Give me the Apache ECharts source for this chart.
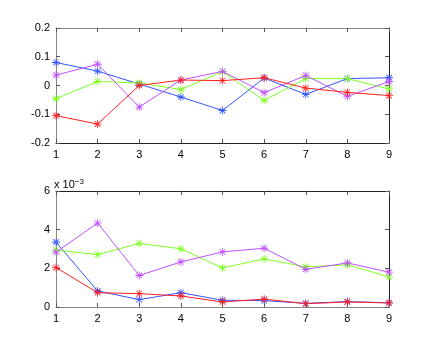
<!DOCTYPE html>
<html><head><meta charset="utf-8">
<script src="https://cdn.jsdelivr.net/npm/echarts@6/dist/echarts.min.js"></script>
<style>html,body{margin:0;padding:0;background:#fff}#c{width:429px;height:346px}</style>
</head><body><div id="c"></div>
<script>
const categories = [1,2,3,4,5,6,7,8,9];
const topTicks = [-0.2,-0.1,0,0.1,0.2];
const bottomTicks = [0,2,4,6];
// top subplot
const topBlue   = [0.080,0.050,0.005,-0.040,-0.087,0.026,-0.031,0.024,0.027];
const topGreen  = [-0.046,0.014,0.009,-0.014,0.048,-0.052,0.024,0.024,-0.012];
const topPurple = [0.036,0.074,-0.075,0.019,0.049,-0.025,0.035,-0.038,0.014];
const topRed    = [-0.105,-0.134,0.000,0.019,0.017,0.027,-0.009,-0.024,-0.035];
// bottom subplot (x 10^-3)
const botBlue   = [3.35,0.83,0.38,0.74,0.35,0.33,0.19,0.28,0.22];
const botGreen  = [2.94,2.71,3.29,3.01,2.02,2.49,2.08,2.18,1.56];
const botPurple = [2.84,4.34,1.63,2.33,2.85,3.04,1.95,2.28,1.80];
const botRed    = [2.04,0.74,0.69,0.57,0.26,0.41,0.17,0.26,0.21];

const colors = {blue:'#3355ff', green:'#7fff20', purple:'#c050ff', red:'#ff2020'};
const star = 'path://M-0.5,-5L0.5,-5L0.5,5L-0.5,5Z M-5,-0.5L5,-0.5L5,0.5L-5,0.5Z M-3.9,-3.2L-3.2,-3.9L3.9,3.2L3.2,3.9Z M3.2,-3.9L3.9,-3.2L-3.2,3.9L-3.9,3.2Z';
const font = {fontFamily:'Liberation Sans, Arial, sans-serif', fontSize:11, color:'#000'};

function pts(arr){ return arr.map((v,i)=>[categories[i], v]); }
function ser(arr, col, xi, yi){
  return {type:'line', data: pts(arr), xAxisIndex: xi, yAxisIndex: yi,
    symbol: star, symbolSize: 8, showSymbol:true,
    lineStyle:{color:col,width:1}, itemStyle:{color:col}, animation:false, z:3};
}
function xAx(grid, pos, showLabel, lineCol){
  return {type:'value', gridIndex:grid, position:pos, min:1, max:9, interval:1,
    axisLine:{show:true, onZero:false, lineStyle:{color:lineCol,width:1}},
    axisTick:{show:true, inside:true, length:4, lineStyle:{color:'#555'}},
    axisLabel:Object.assign({show:showLabel, margin:6}, font),
    splitLine:{show:false}};
}
function yAx(grid, pos, min, max, interval, showLabel, lineCol, fmt){
  return {type:'value', gridIndex:grid, position:pos, min:min, max:max, interval:interval,
    axisLine:{show:true, onZero:false, lineStyle:{color:lineCol,width:1}},
    axisTick:{show:true, inside:true, length:4, lineStyle:{color:'#555'}},
    axisLabel:Object.assign({show:showLabel, margin:6, formatter:fmt}, font),
    splitLine:{show:false}};
}
const fmtTop = v => { const r = Math.round(v*10)/10; return r===0 ? '0' : String(r); };
const fmtBot = v => String(Math.round(v));

const chart = echarts.init(document.getElementById('c'));
chart.setOption({
  backgroundColor:'#fff',
  animation:false,
  grid:[{left:56, top:28, width:333, height:115},{left:56, top:191, width:333, height:116}],
  xAxis:[xAx(0,'bottom',true,'#222'), xAx(0,'top',false,'#888'),
         xAx(1,'bottom',true,'#888'), xAx(1,'top',false,'#222')],
  yAxis:[yAx(0,'left',topTicks[0],topTicks[topTicks.length-1],0.1,true,'#888',fmtTop),
         yAx(0,'right',topTicks[0],topTicks[topTicks.length-1],0.1,false,'#222',fmtTop),
         yAx(1,'left',bottomTicks[0],bottomTicks[bottomTicks.length-1],2,true,'#888',fmtBot),
         yAx(1,'right',bottomTicks[0],bottomTicks[bottomTicks.length-1],2,false,'#222',fmtBot)],
  graphic:[{type:'text', left:54, top:178, style:{
    text:'{a|x 10}{b|−3}', rich:{a:{fontSize:11,fontFamily:'Liberation Sans, Arial, sans-serif',fill:'#000'},
    b:{fontSize:8,fontFamily:'Liberation Sans, Arial, sans-serif',fill:'#000',verticalAlign:'top',padding:[0,0,6,0]}}}}],
  series:[
    ser(topBlue,colors.blue,0,0), ser(topGreen,colors.green,0,0), ser(topPurple,colors.purple,0,0), ser(topRed,colors.red,0,0),
    ser(botBlue,colors.blue,2,2), ser(botGreen,colors.green,2,2), ser(botPurple,colors.purple,2,2), ser(botRed,colors.red,2,2)
  ]
});
</script></body></html>
